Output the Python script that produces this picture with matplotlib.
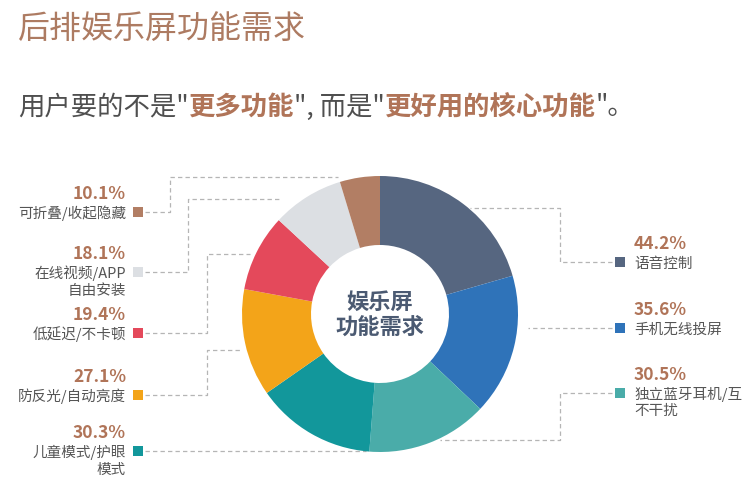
import matplotlib.pyplot as plt

plt.rcParams['font.family'] = ['Noto Sans CJK SC', 'DejaVu Sans']

W, H = 756, 484

# data (clockwise from 12 o'clock)
features = ['语音控制', '手机无线投屏', '独立蓝牙耳机/互\n不干扰', '儿童模式/护眼\n模式',
            '防反光/自动亮度', '低延迟/不卡顿', '在线视频/APP\n自由安装', '可折叠/收起隐藏']
shares = [44.2, 35.6, 30.5, 30.3, 27.1, 19.4, 18.1, 10.1]
colors = ['#566680', '#2f73b9', '#4aaca9', '#12979b',
          '#f3a419', '#e4495b', '#dcdfe3', '#b27e64']

# label layout, pixels from the top-left corner
side = ['R', 'R', 'R', 'L', 'L', 'L', 'L', 'L']
label_y = [262, 328, 393, 451, 395, 333, 272, 212]
elbow_x = [560, None, 560, None, 207, 207, 188, 170]
line_y = [208, 328, 440, 451, 350, 254, 199, 177]
end_x = [470, 528, 440, 366, 242, 250, 281, 338]

brown = '#b07458'
grey = '#4f4f4f'


def py(y):
    return H - y


fig = plt.figure(figsize=(W / 100, H / 100), dpi=100)
ax = fig.add_axes([0, 0, 1, 1])

ax.pie(shares, colors=colors, startangle=90, counterclock=False,
       radius=138, center=(380, py(314)),
       wedgeprops=dict(width=69, edgecolor='none'))
ax.set_xlim(0, W)
ax.set_ylim(0, H)
ax.set_aspect('equal')
ax.axis('off')

# centre text
ax.text(380, py(302), '娱乐屏', ha='center', va='center', fontsize=16,
        fontweight='bold', color='#4b5a72')
ax.text(380, py(327), '功能需求', ha='center', va='center', fontsize=16,
        fontweight='bold', color='#4b5a72')

# labels, markers and leader lines
for name, val, col, s, ly, ex, lny, enx in zip(features, shares, colors, side,
                                                label_y, elbow_x, line_y, end_x):
    if s == 'L':
        mx, tx, ha, x0 = 138, 126, 'right', 145
    else:
        mx, tx, ha, x0 = 620, 634, 'left', 612
    ax.scatter([mx], [py(ly)], marker='s', s=62, color=col, zorder=3,
               linewidths=0)
    if ex is None:
        xs = [x0, enx]
        ys = [ly, ly]
    else:
        xs = [x0, ex, ex, enx]
        ys = [ly, ly, lny, lny]
    ax.plot(xs, [py(v) for v in ys], color='#b5b5b5', lw=0.9,
            dashes=(3.5, 2.5), zorder=0.5)
    ax.text(tx, py(ly - 20), f'{val}%', ha=ha, va='center_baseline',
            fontsize=12.5, fontweight='bold', color=brown)
    for i, part in enumerate(name.split('\n')):
        ax.text(tx, py(ly + 17 * i), part, ha=ha, va='center_baseline',
                fontsize=10.5, color='#555555')

# title
ax.text(18, py(29), '后排娱乐屏功能需求', ha='left', va='center',
        fontsize=23, color='#ad7b62')

# subtitle made of pieces with two highlighted parts
pieces = [('用户要的不是"', False), ('更多功能', True), ('", 而是"', False),
          ('更好用的核心功能', True), ('"。', False)]
prev = ax.text(18, py(107), pieces[0][0], ha='left', va='center',
               fontsize=19, color=grey)
for txt, hi in pieces[1:]:
    prev = ax.annotate(txt, xy=(1, 0), xycoords=prev, ha='left', va='bottom',
                       fontsize=19, color=brown if hi else grey,
                       fontweight='bold' if hi else 'normal')

fig.savefig('out.png', dpi=100, facecolor='white')
